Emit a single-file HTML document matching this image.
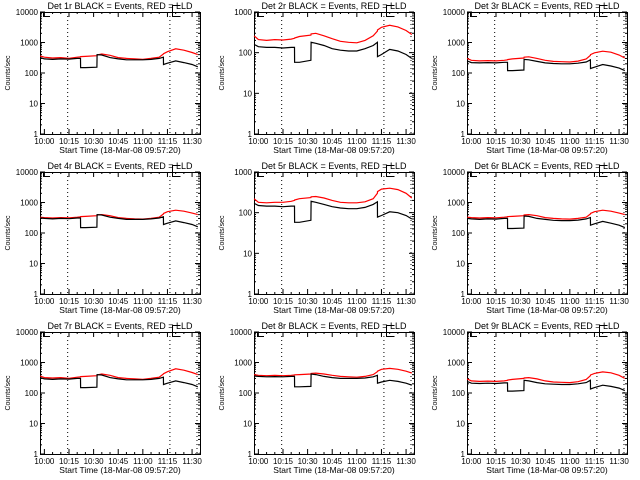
<!DOCTYPE html>
<html><head><meta charset="utf-8"><style>
body{margin:0;background:#fff;}
svg{display:block;font-family:"Liberation Sans",sans-serif;}
</style></head><body>
<svg id="c" width="640" height="480"></svg>
<script>
const times=[-2.6,0,5,10,15,20,22,22.1,25,32,32.1,35,40,45,50,55,60,65,70,72.5,72.6,75,80,85,90,93.5];
const xTickLabels=["10:00","10:15","10:30","10:45","11:00","11:15","11:30"];
const xTickMinutes=[0,15,30,45,60,75,90];
const dottedMinutes=[14.2,76.5,93];
const detNames=["1r","2r","3r","4r","5r","6r","7r","8r","9r"];
const decades=[4,3,4,4,3,4,4,4,4];
const black1=[320,290,280,290,285,300,300,150,150,155,400,390,320,290,270,270,270,280,300,330,190,210,250,220,190,160];
const red1=[360,330,310,320,300,330,340,345,350,370,390,420,380,320,300,290,280,300,330,420,430,500,620,560,470,400];
const black2=[160,140,135,135,130,135,135,58,58,65,180,170,150,125,115,110,110,125,150,180,80,90,120,110,90,72];
const red2=[260,210,200,210,205,215,225,230,250,270,290,300,260,220,190,180,175,200,260,340,360,420,470,430,350,280];
const black3=[250,220,215,220,215,225,225,120,120,125,280,270,240,215,205,200,200,210,230,270,140,155,190,170,145,120];
const red3=[300,260,250,255,250,260,270,275,290,310,330,340,300,260,240,235,230,245,290,380,400,460,520,480,390,310];
const black4=[310,300,290,300,295,310,310,150,150,155,400,390,330,300,280,280,280,290,310,340,190,210,250,220,190,160];
const red4=[330,320,310,320,315,330,340,345,350,370,390,400,370,320,300,290,285,300,330,420,440,500,560,520,450,400];
const black5=[170,150,145,145,140,145,145,58,58,65,190,180,160,140,130,125,125,135,160,185,78,85,105,100,85,70];
const red5=[220,180,175,180,180,190,200,205,220,235,245,250,230,200,180,175,175,185,220,300,330,380,400,370,300,230];
const black6=[300,290,280,290,285,300,300,140,140,145,360,350,300,280,260,255,255,265,290,320,180,200,240,210,180,150];
const red6=[330,320,310,320,315,330,340,345,350,370,390,400,370,320,300,290,285,300,330,420,440,500,560,520,450,400];
const black7=[320,290,280,290,285,300,300,150,150,155,400,390,320,290,270,270,270,280,300,330,190,210,250,220,190,160];
const red7=[360,320,310,320,300,330,340,345,350,370,390,420,380,320,300,290,280,300,330,420,430,500,620,560,470,400];
const black8=[360,350,340,345,340,350,350,160,160,165,420,400,350,320,300,300,300,310,340,380,210,230,260,240,210,180];
const red8=[400,380,370,380,370,380,390,395,400,420,440,450,420,380,350,340,330,350,400,500,520,600,640,600,520,450];
const black9=[240,210,205,210,205,215,215,115,115,120,260,250,220,200,195,190,190,200,220,260,135,150,180,165,145,120];
const red9=[290,250,240,245,240,250,260,265,280,300,310,320,290,250,230,225,220,235,280,370,390,440,490,460,380,300];
const blacks=[black1,black2,black3,black4,black5,black6,black7,black8,black9];
const reds=[red1,red2,red3,red4,red5,red6,red7,red8,red9];

const svg=document.getElementById('c');
const NS="http://www.w3.org/2000/svg";
function mk(tag,attrs,parent){const e=document.createElementNS(NS,tag);for(const k in attrs)e.setAttribute(k,attrs[k]);parent.appendChild(e);return e;}
const colLeft=[40,254,467], rowTop=[12,172,332], W=160, H=122;
for(let i=0;i<9;i++){
  const L=colLeft[i%3], T=rowTop[Math.floor(i/3)], R=L+W, B=T+H;
  const g=mk('g',{},svg);
  
  
  const xs=m=>L+(m+2.667)*(W/97.5);
  const nd=decades[i];
  const ys=v=>B-Math.log10(v)/nd*H;
  const fr=mk('rect',{x:L+0.5,y:T+0.5,width:W,height:H,fill:'none',stroke:'#000','stroke-width':1},g);
  
  
  const tt=mk('text',{x:L+W/2,y:T-3,'text-anchor':'middle','font-size':9},g);
  tt.textContent='Det '+detNames[i]+' BLACK = Events, RED = LLD';
  
  
  for(let d=0;d<=nd;d++){
    const y=ys(Math.pow(10,d));
    mk('line',{x1:L,x2:L+5,y1:y,y2:y,stroke:'#000'},g);
    mk('line',{x1:R,x2:R-5,y1:y,y2:y,stroke:'#000'},g);
    if(d<nd)for(let k=2;k<10;k++){const yy=ys(k*Math.pow(10,d));mk('line',{x1:L,x2:L+2,y1:yy,y2:yy,stroke:'#000'},g);mk('line',{x1:R,x2:R-2,y1:yy,y2:yy,stroke:'#000'},g);}
    const lb=mk('text',{x:L-2,y:y+3,'text-anchor':'end','font-size':8},g);
    lb.textContent=String(Math.pow(10,d));
    
    
  }
  const yt=mk('text',{x:0,y:0,'text-anchor':'middle','font-size':7,transform:`translate(${L-30},${T+H/2}) rotate(-90)`},g);
  yt.textContent='Counts/sec';
  
  
  for(let m=-0;m<=95;m+=5){const x=xs(m);const maj=m%15===0;mk('line',{x1:x,x2:x,y1:B,y2:B-(maj?5:2),stroke:'#000'},g);mk('line',{x1:x,x2:x,y1:T,y2:T+(maj?5:2),stroke:'#000'},g);}
  xTickMinutes.forEach((m,k)=>{
    const lb=mk('text',{x:xs(m),y:B+10,'text-anchor':'middle','font-size':8},g);
    lb.textContent=xTickLabels[k];
    
    
  });
  const xt=mk('text',{x:L+W/2,y:B+19,'text-anchor':'middle','font-size':8.5},g);
  xt.textContent='Start Time (18-Mar-08 09:57:20)';
  
  
  dottedMinutes.forEach(m=>{const x=xs(m);const dl=mk('line',{x1:x,x2:x,y1:T,y2:B,stroke:'#000','stroke-dasharray':'1,3'},g);
    
    });
  mk('path',{d:`M${L+3.5},${T} V${T+4.5} H${L+10}`,fill:'none',stroke:'#000'},g);
  const bx=Math.round(xs(77.5))+0.5;
  mk('path',{d:`M${bx+8},${T-6.5} H${bx} V${T+4.5} H${bx+8}`,fill:'none',stroke:'#000'},g);
  const pts=arr=>arr.map((v,k)=>xs(times[k]).toFixed(1)+','+ys(v).toFixed(1)).join(' ');
  const rl=mk('polyline',{points:pts(reds[i]),fill:'none',stroke:'#f00','stroke-width':1.2},g);
  
  
  const bl=mk('polyline',{points:pts(blacks[i]),fill:'none',stroke:'#000','stroke-width':1.2},g);
  
  
}
</script>
</body></html>
